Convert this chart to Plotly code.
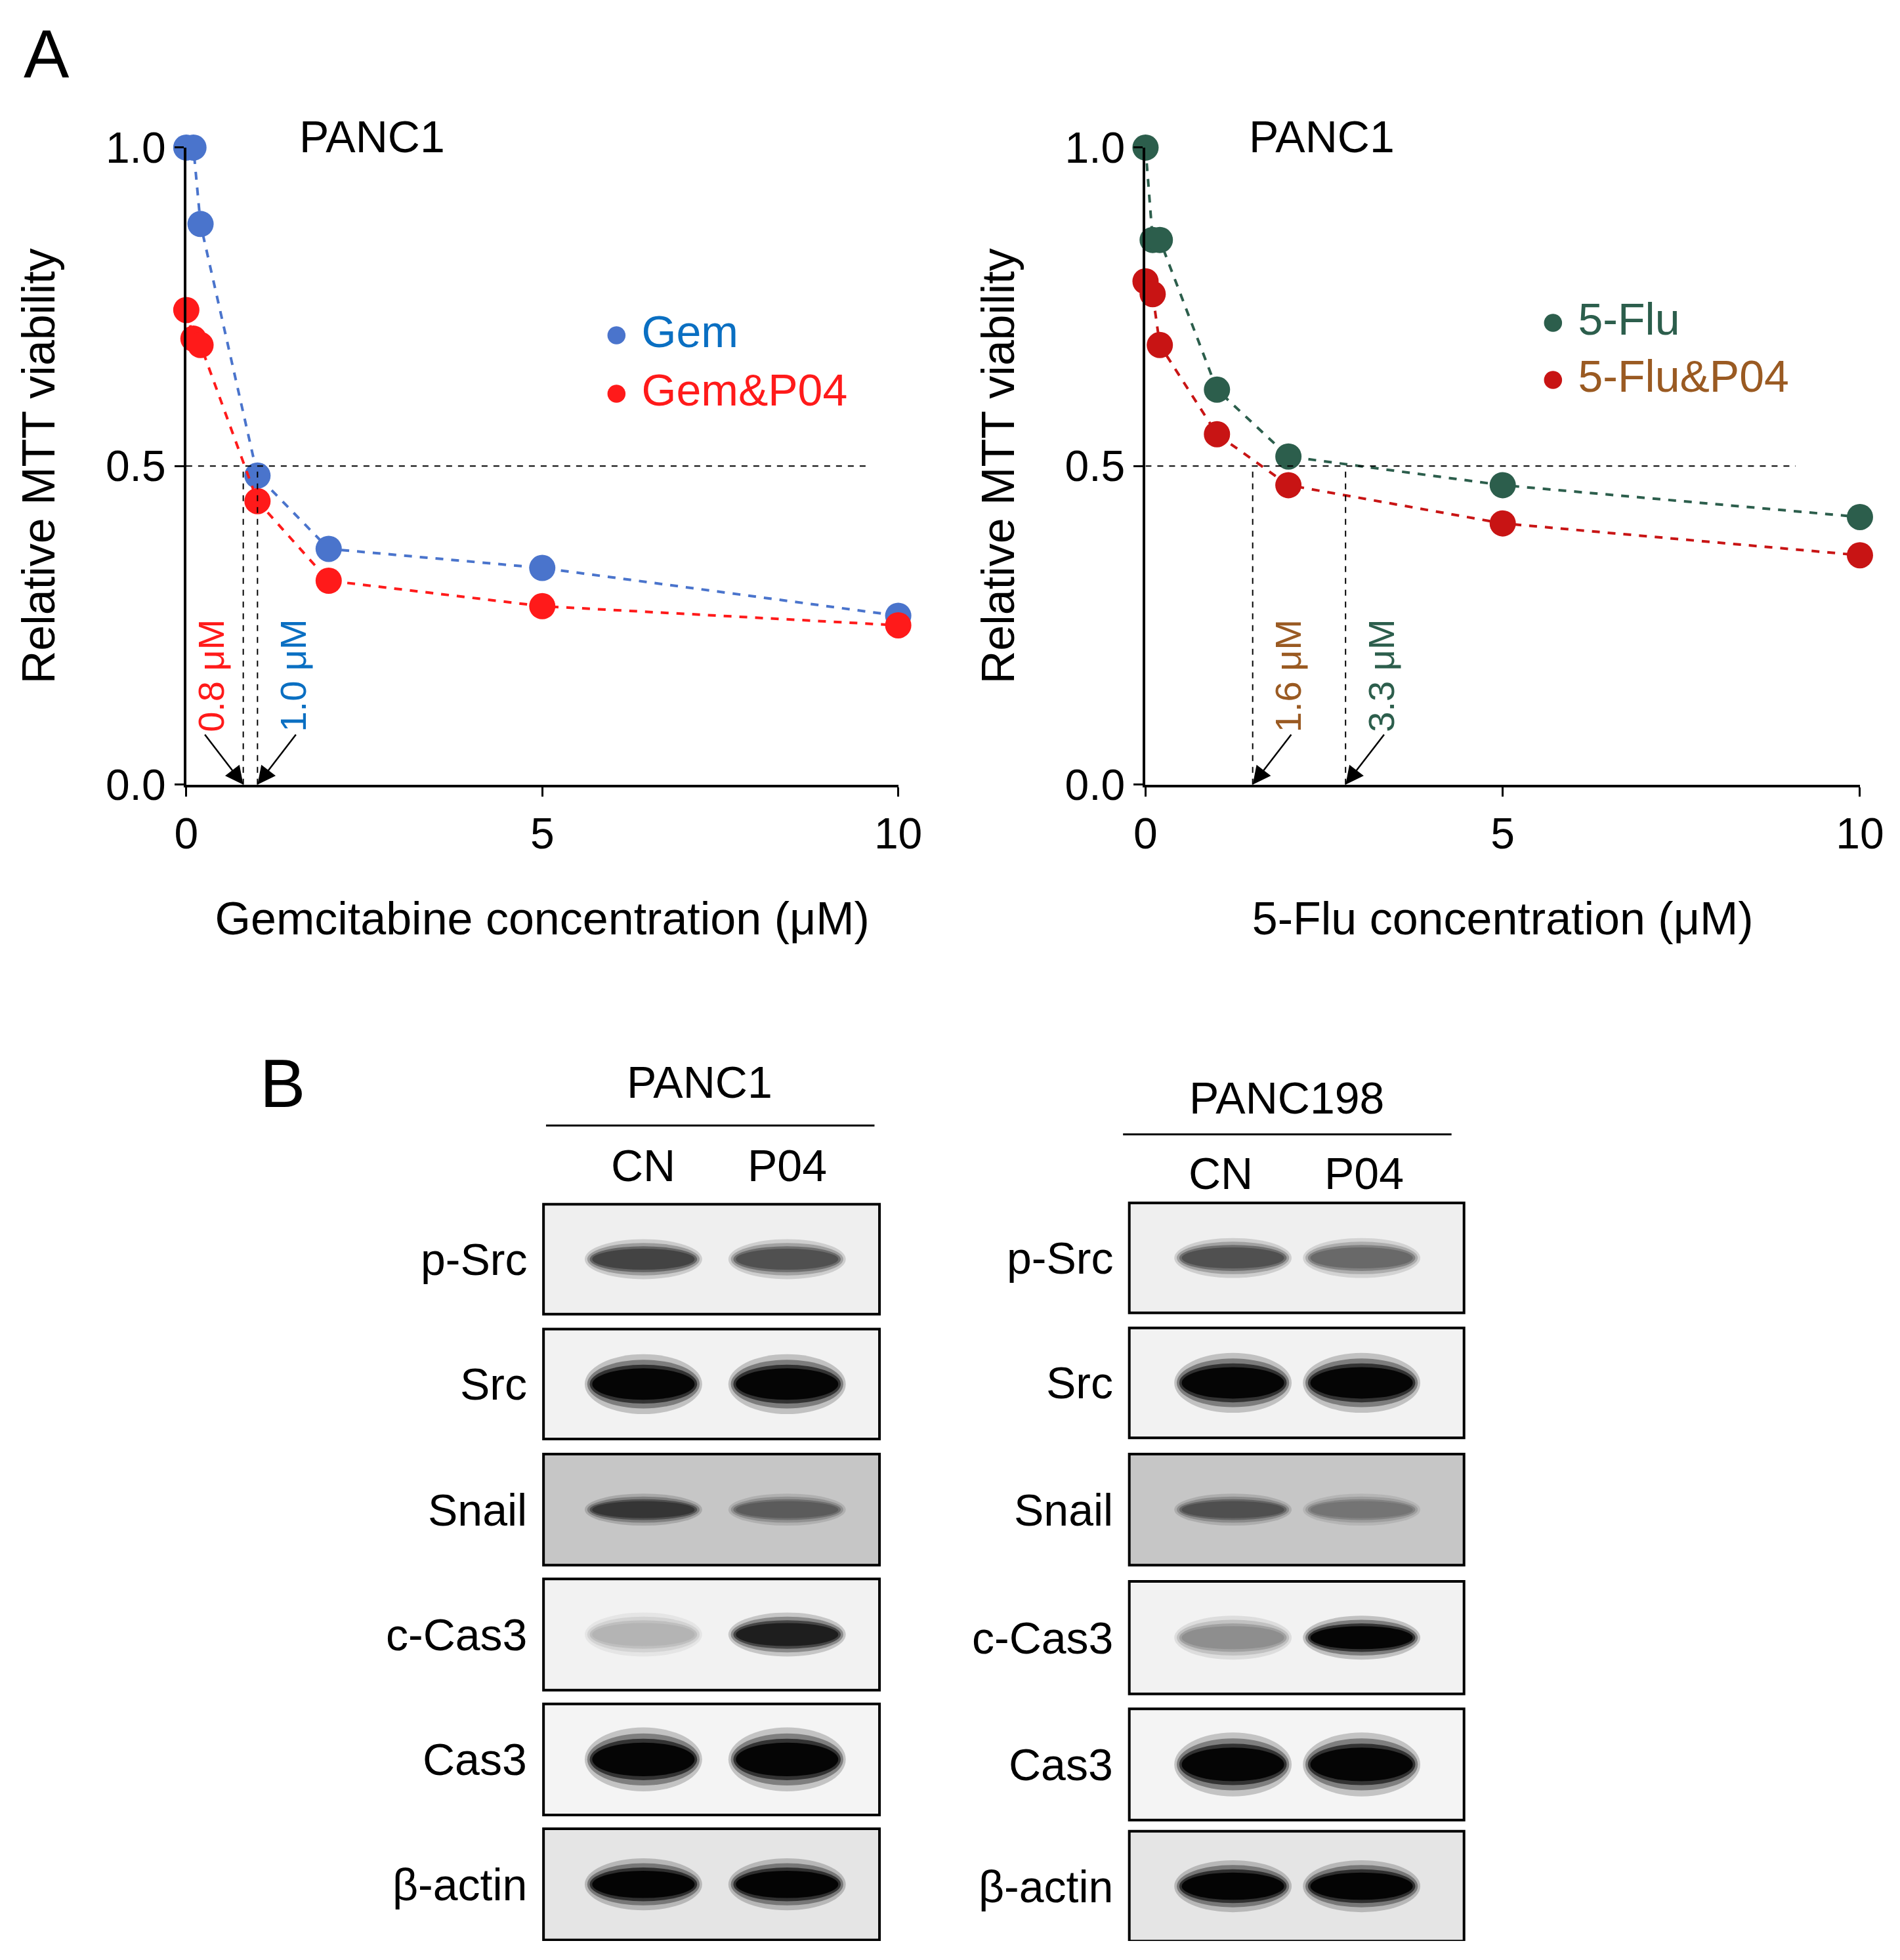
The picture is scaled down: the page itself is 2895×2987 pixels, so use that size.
import plotly.graph_objects as go

W, H = 2895, 2987

# ---- MTT data ----
conc = [0, 0.1, 0.2, 1, 2, 5, 10]
gem = [1.0, 1.0, 0.88, 0.485, 0.37, 0.34, 0.265]
gem_p04 = [0.745, 0.70, 0.69, 0.445, 0.32, 0.28, 0.25]
flu = [1.0, 0.855, 0.855, 0.62, 0.515, 0.47, 0.42]
flu_p04 = [0.79, 0.77, 0.69, 0.55, 0.47, 0.41, 0.36]
ic50_gem = [0.8, 1.0]
ic50_flu = [1.5, 2.8]
ic50_gem_txt = ["0.8 μM", "1.0 μM"]
ic50_flu_txt = ["1.6 μM", "3.3 μM"]

# ---- western blot data (band darkness 0..1) ----
proteins = ["p-Src", "Src", "Snail", "c-Cas3", "Cas3", "β-actin"]
panc1_cn = [0.75, 1.0, 0.8, 0.3, 1.0, 1.0]
panc1_p04 = [0.7, 1.0, 0.65, 0.9, 1.0, 1.0]
panc198_cn = [0.7, 1.0, 0.7, 0.45, 1.0, 1.0]
panc198_p04 = [0.6, 1.0, 0.55, 1.0, 1.0, 1.0]
band_thick = [20, 30, 16, 22, 32, 26]
bg_shade = [0.06, 0.05, 0.22, 0.05, 0.04, 0.1]

FONT = "Liberation Sans"

# reference (displayed 1520-wide) coords -> figure pixels, with render correction
def PX(p):
    return (p - 11.5) / 0.982 * 1.905
def PY(p):
    return (p - 22.5) / 0.976 * 1.905

fig = go.Figure()
shapes, annos = [], []

def add_curve(x, y, color, name, xa, ya, lab_color, lx, ly):
    fig.add_trace(go.Scatter(x=x, y=y, mode="lines+markers", xaxis=xa, yaxis=ya,
                             line=dict(color=color, width=4, dash="dash"),
                             marker=dict(color=color, size=40), showlegend=False,
                             cliponaxis=False))
    # legend entry as text
    annos.append(dict(xref="x3", yref="y3", x=PX(lx), y=PY(ly), xanchor="left", showarrow=False,
                      text=f"<span style='color:{color};font-size:64px'>●</span>"
                           f"<span style='color:{lab_color}'> {name}</span>",
                      font=dict(size=68, family=FONT)))

add_curve(conc, gem, "#4a74cc", "Gem", "x", "y", "#0a6fc2", 480, 264)
add_curve(conc, gem_p04, "#ff1a1a", "Gem&P04", "x", "y", "#ff1a1a", 480, 311)
add_curve(conc, flu, "#2c5e4c", "5-Flu", "x2", "y2", "#2c5e4c", 1230, 254)
add_curve(conc, flu_p04, "#c81414", "5-Flu&P04", "x2", "y2", "#9a5a22", 1230, 300)

def ic50_marks(xref, yref, xs, txts, colors, xend):
    shapes.append(dict(type="line", xref=xref, yref=yref, x0=0, x1=xend, y0=0.5, y1=0.5,
                       line=dict(color="black", width=2, dash="dash")))
    for xv in xs:
        shapes.append(dict(type="line", xref=xref, yref=yref, x0=xv, x1=xv, y0=0, y1=0.5,
                           line=dict(color="black", width=2, dash="dash")))
    for i, (xv, t, c) in enumerate(zip(xs, txts, colors)):
        sgn = -1 if (i == 0 and xref == "x") else 1
        annos.append(dict(xref=xref, yref=yref, x=xv, y=0, axref=xref, ayref=yref,
                          ax=xv + sgn * 0.55, ay=0.08, showarrow=True, arrowhead=2,
                          arrowsize=2.2, arrowwidth=2.5, arrowcolor="black", text=""))
        annos.append(dict(xref=xref, yref=yref, x=xv + sgn * 0.45 + (0.05 if sgn > 0 else 0.0),
                          y=0.08, yanchor="bottom", text=t, textangle=-90, showarrow=False,
                          font=dict(size=56, color=c, family=FONT)))

ic50_marks("x", "y", ic50_gem, ic50_gem_txt, ["#ff1a1a", "#0a6fc2"], 9.6)
ic50_marks("x2", "y2", ic50_flu, ic50_flu_txt, ["#9a5a22", "#2c5e4c"], 9.1)

# ---- blots drawn in pixel axis x3/y3 ----
rows1 = [(963, 1051), (1063, 1151), (1163, 1252), (1263, 1352), (1363, 1452), (1463, 1552)]
rows2 = [(962, 1050), (1062, 1150), (1163, 1252), (1265, 1355), (1367, 1456), (1465, 1553)]
def gray(v, a=1.0):
    g = int(255 * (1 - v))
    return f"rgba({g},{g},{g},{a})"

def blot(x0, x1, rows, lanes, cn, p04):
    for i, (t, b) in enumerate(rows):
        shapes.append(dict(type="rect", xref="x3", yref="y3", x0=PX(x0), x1=PX(x1),
                           y0=PY(t), y1=PY(b), fillcolor=gray(bg_shade[i]),
                           line=dict(color="black", width=4), layer="below"))
        yc = (t + b) / 2
        for lx, v in zip(lanes, [cn[i], p04[i]]):
            th = band_thick[i]
            for hw, hh, a in [(47, 0.8, 0.2), (45, 0.65, 0.35), (43, 0.52, 0.6), (41, 0.42, 0.9)]:
                shapes.append(dict(type="circle", xref="x3", yref="y3",
                                   x0=PX(lx - hw), x1=PX(lx + hw),
                                   y0=PY(yc - th * hh), y1=PY(yc + th * hh),
                                   fillcolor=gray(v, a), line=dict(width=0), layer="below"))
        annos.append(dict(xref="x3", yref="y3", x=PX(x0 - 12), y=PY(yc), xanchor="right",
                          text=proteins[i], showarrow=False, font=dict(size=68, family=FONT)))

blot(433, 702, rows1, [513, 628], panc1_cn, panc1_p04)
blot(902, 1170, rows2, [985, 1088], panc198_cn, panc198_p04)

for name, cx, ty, x0, x1, ly, lanes, ny in [("PANC1", 558, 865, 435, 698, 900, [513, 628], 932),
                                            ("PANC198", 1028, 878, 897, 1160, 907, [975, 1090], 938)]:
    annos.append(dict(xref="x3", yref="y3", x=PX(cx), y=PY(ty), text=name,
                      showarrow=False, font=dict(size=68, family=FONT)))
    shapes.append(dict(type="line", xref="x3", yref="y3", x0=PX(x0), x1=PX(x1), y0=PY(ly), y1=PY(ly),
                       line=dict(color="black", width=3)))
    for lx, t in zip(lanes, ["CN", "P04"]):
        annos.append(dict(xref="x3", yref="y3", x=PX(lx), y=PY(ny), text=t, showarrow=False,
                          font=dict(size=68, family=FONT)))

annos += [dict(xref="x3", yref="y3", x=PX(35), y=PY(42), text="A", showarrow=False,
               font=dict(size=104, family=FONT)),
          dict(xref="x3", yref="y3", x=PX(224), y=PY(866), text="B", showarrow=False,
               font=dict(size=104, family=FONT)),
          dict(xref="x3", yref="y3", x=PX(296), y=PY(108), text="PANC1", showarrow=False,
               font=dict(size=68, family=FONT)),
          dict(xref="x3", yref="y3", x=PX(1056), y=PY(108), text="PANC1", showarrow=False,
               font=dict(size=68, family=FONT))]

ax_common = dict(showline=True, linecolor="black", linewidth=4, ticks="outside", ticklen=14,
                 tickwidth=3, tickcolor="black", showgrid=False, zeroline=False,
                 tickfont=dict(size=66, family=FONT, color="black"))
tfont = dict(size=70, family=FONT, color="black")
yd = [1 - PY(627) / H, 1 - PY(117) / H]
fig.update_layout(
    width=W, height=H, plot_bgcolor="rgba(0,0,0,0)", paper_bgcolor="white",
    font=dict(family=FONT, color="black"), showlegend=False,
    margin=dict(l=0, r=0, t=0, b=0), shapes=shapes, annotations=annos,
    xaxis=dict(domain=[PX(147) / W, PX(717) / W], range=[0, 10], tickvals=[0, 5, 10], anchor="y",
               title=dict(text="Gemcitabine concentration (μM)", font=tfont, standoff=70),
               **ax_common),
    yaxis=dict(domain=yd, range=[0, 1], tickvals=[0, 0.5, 1],
               tickformat=".1f", anchor="x",
               title=dict(text="Relative MTT viability", font=tfont, standoff=55),
               **ax_common),
    xaxis2=dict(domain=[PX(915) / W, PX(1487) / W], range=[0, 10], tickvals=[0, 5, 10], anchor="y2",
                title=dict(text="5-Flu concentration (μM)", font=tfont, standoff=70),
                **ax_common),
    yaxis2=dict(domain=yd, range=[0, 1], tickvals=[0, 0.5, 1],
                tickformat=".1f", anchor="x2",
                title=dict(text="Relative MTT viability", font=tfont, standoff=55),
                **ax_common),
    xaxis3=dict(domain=[0, 1], range=[0, W], visible=False, anchor="y3"),
    yaxis3=dict(domain=[0, 1], range=[H, 0], visible=False, anchor="x3"),
)
fig.write_html("out.html")
